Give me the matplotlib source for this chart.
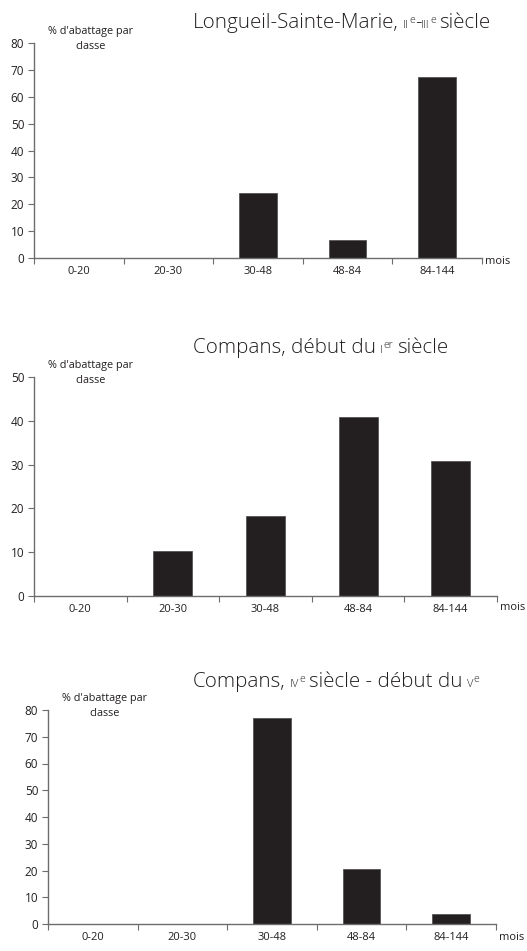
import matplotlib.pyplot as plt
import numpy as np

plt.rcParams['font.family'] = ['Open Sans', 'DejaVu Sans']

# age classes (months) and % slaughter per class
classes = ["0-20", "20-30", "30-48", "48-84", "84-144"]
longueil = [0, 0, 24.2, 6.7, 67.4]
compans_1 = [0, 10.3, 18.3, 40.8, 30.8]
compans_4 = [0, 0, 77.1, 20.4, 3.6]

W, H = 527, 951
BAR = "#231f20"
AX = "#6d6d6d"
TXT = "#231f20"

fig = plt.figure(figsize=(W / 100, H / 100), dpi=100)
renderer = fig.canvas.get_renderer()


def rich_title(x_px, base_px, parts):
    # parts: (text, fontsize, rise px, gap before px)
    x = x_px
    for s, size, rise, gap in parts:
        x += gap
        t = fig.text(x / W, 1 - (base_px - rise) / H, s, fontsize=size,
                     va='baseline', ha='left', color=TXT, fontweight=300)
        x += t.get_window_extent(renderer).width


def panel(box, values, ymax, ystep, mois_dy):
    l, t, r, b = box
    ax = fig.add_axes([l / W, 1 - b / H, (r - l) / W, (b - t) / H])
    x = np.arange(len(values)) + 0.5
    ax.bar(x, values, width=0.42, color=BAR, edgecolor="#555555", linewidth=0.6)
    ax.set_xlim(0, len(values))
    ax.set_ylim(0, ymax)
    ax.set_yticks(np.arange(0, ymax + 1, ystep))
    ax.set_xticks(np.arange(len(values) + 1))
    ax.set_xticklabels([])
    ax.set_xticks(x, minor=True)
    ax.set_xticklabels(classes, minor=True)
    ax.tick_params(axis='x', which='minor', length=0, pad=6, labelsize=8,
                   labelcolor=TXT)
    ax.tick_params(axis='x', which='major', length=4, width=0.8, color=AX)
    ax.tick_params(axis='y', length=4, width=0.8, color=AX, labelsize=8.5,
                   pad=3, labelcolor=TXT)
    for s in ['top', 'right']:
        ax.spines[s].set_visible(False)
    for s in ['left', 'bottom']:
        ax.spines[s].set_color(AX)
        ax.spines[s].set_linewidth(1.0)
    fig.text((l + 57) / W, 1 - (t - 4) / H, "% d'abattage par\nclasse",
             ha='center', va='center', multialignment='center',
             fontsize=7.8, linespacing=1.4, color=TXT)
    fig.text((r + 3) / W, 1 - (b + mois_dy) / H, "mois", ha='left', va='center',
             fontsize=8, color=TXT)
    return ax


panel((34, 43, 482, 258), longueil, 80, 10, 3)
panel((34, 377, 497, 596), compans_1, 50, 10, 12)
panel((48, 710, 496, 924), compans_4, 80, 10, 14)

rich_title(193, 28, [("Longueil-Sainte-Marie,", 14.8, 0, 0),
                     ("II", 8, 0, 4), ("e", 7.5, 5, 0.5),
                     ("-", 14.8, 0, 0),
                     ("III", 8, 0, 0), ("e", 7.5, 5, 0.5),
                     ("siècle", 14.8, 0, 3)])
rich_title(193, 353, [("Compans, début du", 14.8, 0, 0),
                      ("I", 8, 0, 4), ("er", 7.5, 5, 0.5),
                      ("siècle", 14.8, 0, 4)])
rich_title(193, 687, [("Compans,", 14.8, 0, 0),
                      ("IV", 8, 0, 4), ("e", 7.5, 5, 0.5),
                      ("siècle - début du", 14.8, 0, 4),
                      ("V", 8, 0, 4), ("e", 7.5, 5, 0.5)])

fig.savefig("out.png", dpi=100)
